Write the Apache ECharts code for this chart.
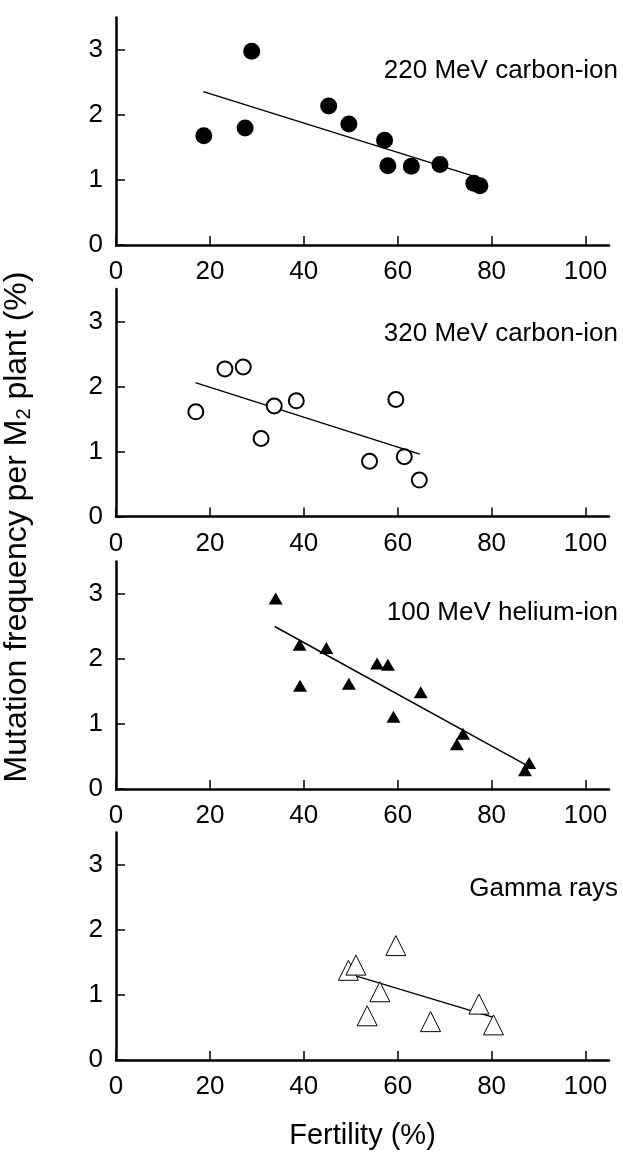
<!DOCTYPE html>
<html>
<head>
<meta charset="utf-8">
<script src="https://cdn.jsdelivr.net/npm/echarts@6/dist/echarts.min.js"></script>
<style>
  html, body { margin: 0; padding: 0; background: #fff; }
  #chart { width: 623px; height: 1162px; }
</style>
</head>
<body>
<div id="chart"></div>
<script>
// Fertility (%) vs mutation frequency per M2 plant (%), one panel per radiation type
const panelNames = ['220 MeV carbon-ion', '320 MeV carbon-ion', '100 MeV helium-ion', 'Gamma rays'];
const xTicks = [0, 20, 40, 60, 80, 100];
const yTicks = [0, 1, 2, 3];

// [fertility, mutation frequency]
const carbon220 = [[18.7, 1.68], [27.5, 1.80], [28.9, 2.98], [45.3, 2.14], [49.6, 1.86], [57.2, 1.61],
                   [57.9, 1.22], [62.9, 1.21], [69.0, 1.24], [76.2, 0.95], [77.5, 0.91]];
const carbon320 = [[17.0, 1.61], [23.2, 2.27], [27.1, 2.30], [30.9, 1.20], [33.7, 1.70], [38.4, 1.78],
                   [54.0, 0.85], [59.6, 1.80], [61.4, 0.92], [64.6, 0.56]];
const helium100 = [[34.0, 2.93], [39.1, 2.22], [39.2, 1.59], [44.8, 2.17], [49.6, 1.62], [55.6, 1.93],
                   [57.9, 1.91], [59.1, 1.11], [64.9, 1.49], [72.6, 0.69], [73.9, 0.85], [87.1, 0.29], [88.0, 0.40]];
const gammaRays = [[49.5, 1.38], [51.1, 1.46], [53.5, 0.68], [56.2, 1.05], [59.6, 1.76], [67.0, 0.59],
                   [77.3, 0.86], [80.4, 0.54]];

// regression line end points
const fit220 = [[18.6, 2.36], [77.0, 1.04]];
const fit320 = [[16.9, 2.06], [64.7, 0.96]];
const fitHe = [[33.8, 2.50], [87.3, 0.37]];
const fitGamma = [[51.2, 1.29], [80.2, 0.66]];

const FONT = '"Liberation Sans", Arial, Helvetica, sans-serif';
const gridTops = [17.5, 289, 561.5, 832.5];
const gridH = 227.5;
const labelTops = [58, 321, 600, 876];

const grids = gridTops.map(t => ({ left: 116, right: 14, top: t, height: gridH }));

const xAxes = gridTops.map((t, i) => ({
  gridIndex: i, type: 'value', min: 0, max: 105,
  axisLine: { lineStyle: { color: '#000', width: 2.5 } },
  axisTick: { inside: true, length: 9, customValues: xTicks, lineStyle: { color: '#000', width: 1.5 } },
  axisLabel: { customValues: xTicks, margin: 14, fontSize: 26, color: '#000', fontFamily: FONT },
  splitLine: { show: false },
  name: i === 3 ? 'Fertility (%)' : '',
  nameLocation: 'middle', nameGap: 61,
  nameTextStyle: { fontSize: 29, color: '#000', fontFamily: FONT }
}));

const yAxes = gridTops.map((t, i) => ({
  gridIndex: i, type: 'value', min: 0, max: 3.5,
  axisLine: { show: true, lineStyle: { color: '#000', width: 2.5 } },
  axisTick: { show: true, inside: true, length: 9, customValues: yTicks, lineStyle: { color: '#000', width: 1.5 } },
  axisLabel: { customValues: yTicks, margin: 13, fontSize: 26, color: '#000', fontFamily: FONT },
  splitLine: { show: false }
}));

const scatterData = [carbon220, carbon320, helium100, gammaRays];
const fits = [fit220, fit320, fitHe, fitGamma];
const symbols = [
  { symbol: 'circle', symbolSize: 17, itemStyle: { color: '#000', opacity: 1 } },
  { symbol: 'circle', symbolSize: 15, itemStyle: { color: '#fff', borderColor: '#000', borderWidth: 2, opacity: 1 } },
  { symbol: 'triangle', symbolSize: [14, 12], itemStyle: { color: '#000', opacity: 1 } },
  { symbol: 'triangle', symbolSize: 20, itemStyle: { color: '#fff', borderColor: '#000', borderWidth: 1, opacity: 1 } }
];

const series = [];
scatterData.forEach((d, i) => {
  series.push({
    type: 'line', xAxisIndex: i, yAxisIndex: i, data: fits[i], symbol: 'none', z: 1,
    lineStyle: { color: '#000', width: 1.5 }, silent: true
  });
  series.push(Object.assign({
    type: 'scatter', name: panelNames[i], xAxisIndex: i, yAxisIndex: i, data: d, z: 3
  }, symbols[i]));
});

const graphics = panelNames.map((name, i) => ({
  type: 'text', right: 5, top: labelTops[i],
  style: { text: name, fill: '#000', font: '26px ' + FONT }
}));
graphics.push({
  type: 'text', x: 17, y: 527, rotation: Math.PI / 2,
  style: {
    text: '{n|Mutation frequency per M}{s|2}{n| plant (%)}',
    align: 'center', verticalAlign: 'middle',
    rich: {
      n: { fontSize: 32, fontFamily: FONT, fill: '#000', lineHeight: 34 },
      s: { fontSize: 20, fontFamily: FONT, fill: '#000', lineHeight: 20, verticalAlign: 'bottom' }
    }
  }
});

const chart = echarts.init(document.getElementById('chart'), null, { renderer: 'canvas' });
chart.setOption({
  animation: false,
  backgroundColor: '#fff',
  grid: grids,
  xAxis: xAxes,
  yAxis: yAxes,
  series: series,
  graphic: graphics
});
</script>
</body>
</html>
